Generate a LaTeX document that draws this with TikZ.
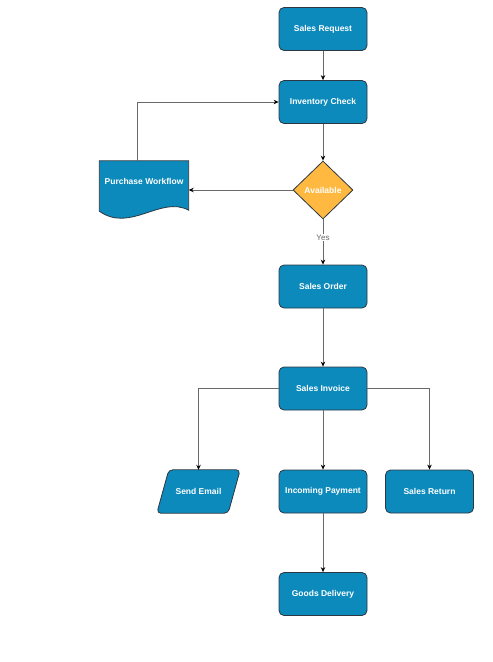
\documentclass[tikz,border=0pt]{standalone}
\usepackage{fontspec}
\setmainfont{Liberation Sans}
\usetikzlibrary{arrows.meta,positioning,shapes.geometric,backgrounds}
\definecolor{flowblue}{RGB}{12,138,188}
\definecolor{floworange}{RGB}{255,185,64}
\definecolor{flowedge}{RGB}{45,55,65}
\definecolor{flowline}{RGB}{105,105,105}

\begin{document}
\begin{tikzpicture}[
		x = 1pt, y = 1pt,
		node distance = 100pt,
		on grid,
		> = {Stealth[length=5pt,width=4.5pt,color=black]},
		every node/.style = {font=\fontsize{8.5}{10}\selectfont\bfseries, text=white},
		box/.style = {draw=flowedge, fill=flowblue, line width=0.8pt, rounded corners=5pt, minimum width=88pt, minimum height=43pt, inner sep=0pt},
		choice/.style = {diamond, draw=flowedge, fill=floworange, line width=0.8pt, minimum width=60pt, minimum height=58pt, inner sep=0pt},
		bare/.style = {minimum width=83pt, minimum height=43pt, inner sep=0pt},
		docbox/.style = {minimum width=89pt, minimum height=40pt, inner sep=0pt},
		shapeline/.style = {fill=flowblue, draw=flowedge, line width=0.8pt},
		link/.style = {->, draw=flowline, line width=0.8pt}
		]
		\useasboundingbox (0,0) rectangle (493,-662);
		\node[box] (SReq) at (323,-29) {Sales Request};
		\node[box] (IChk) [below=73pt of SReq] {Inventory Check};
		\node[choice] (Avail) [below=88pt of IChk] {Available};
		\node[docbox] (PW) [left=179pt of Avail, yshift=9pt] {Purchase Workflow};
		\node[box] (SOrd) [below=96.5pt of Avail] {Sales Order};
		\node[box] (SInv) [below=102pt of SOrd] {Sales Invoice};
		\node[box] (IPay) [below=103pt of SInv] {Incoming Payment};
		\node[bare] (SMail) [left=124.5pt of IPay] {Send Email};
		\node[box] (SRet) [right=106.5pt of IPay] {Sales Return};
		\node[box] (GDel) [below=102.5pt of IPay] {Goods Delivery};
		% document and parallelogram shapes behind their text
		\begin{scope}[on background layer]
			\filldraw[shapeline] (PW.north west) -- (PW.north east) -- ([yshift=-9pt]PW.south east)
			.. controls ([xshift=-28pt,yshift=6pt]PW.south east) and ([xshift=31pt,yshift=-32pt]PW.south west) .. ([yshift=-10pt]PW.south west) -- cycle;
			\filldraw[shapeline, rounded corners=4pt] ([xshift=12pt]SMail.north west) -- (SMail.north east)
			-- ([xshift=-12pt]SMail.south east) -- (SMail.south west) -- cycle;
		\end{scope}
		\draw[link] (SReq) -- (IChk);
		\draw[link] (IChk) -- (Avail);
		\draw[link] (Avail.west) -- (Avail.west -| PW.east);
		\draw[link] ([xshift=-7pt]PW.north) |- (IChk.west);
		\draw[link] (Avail) -- node[pos=0.4, fill=white, text=flowline, font=\fontsize{8}{9}\selectfont, inner sep=1pt] {Yes} (SOrd);
		\draw[link] (SOrd) -- (SInv);
		\draw[link] (SInv.west) -| (SMail.north);
		\draw[link] (SInv) -- (IPay);
		\draw[link] (SInv.east) -| (SRet.north);
		\draw[link] (IPay) -- (GDel);
\end{tikzpicture}
\end{document}
